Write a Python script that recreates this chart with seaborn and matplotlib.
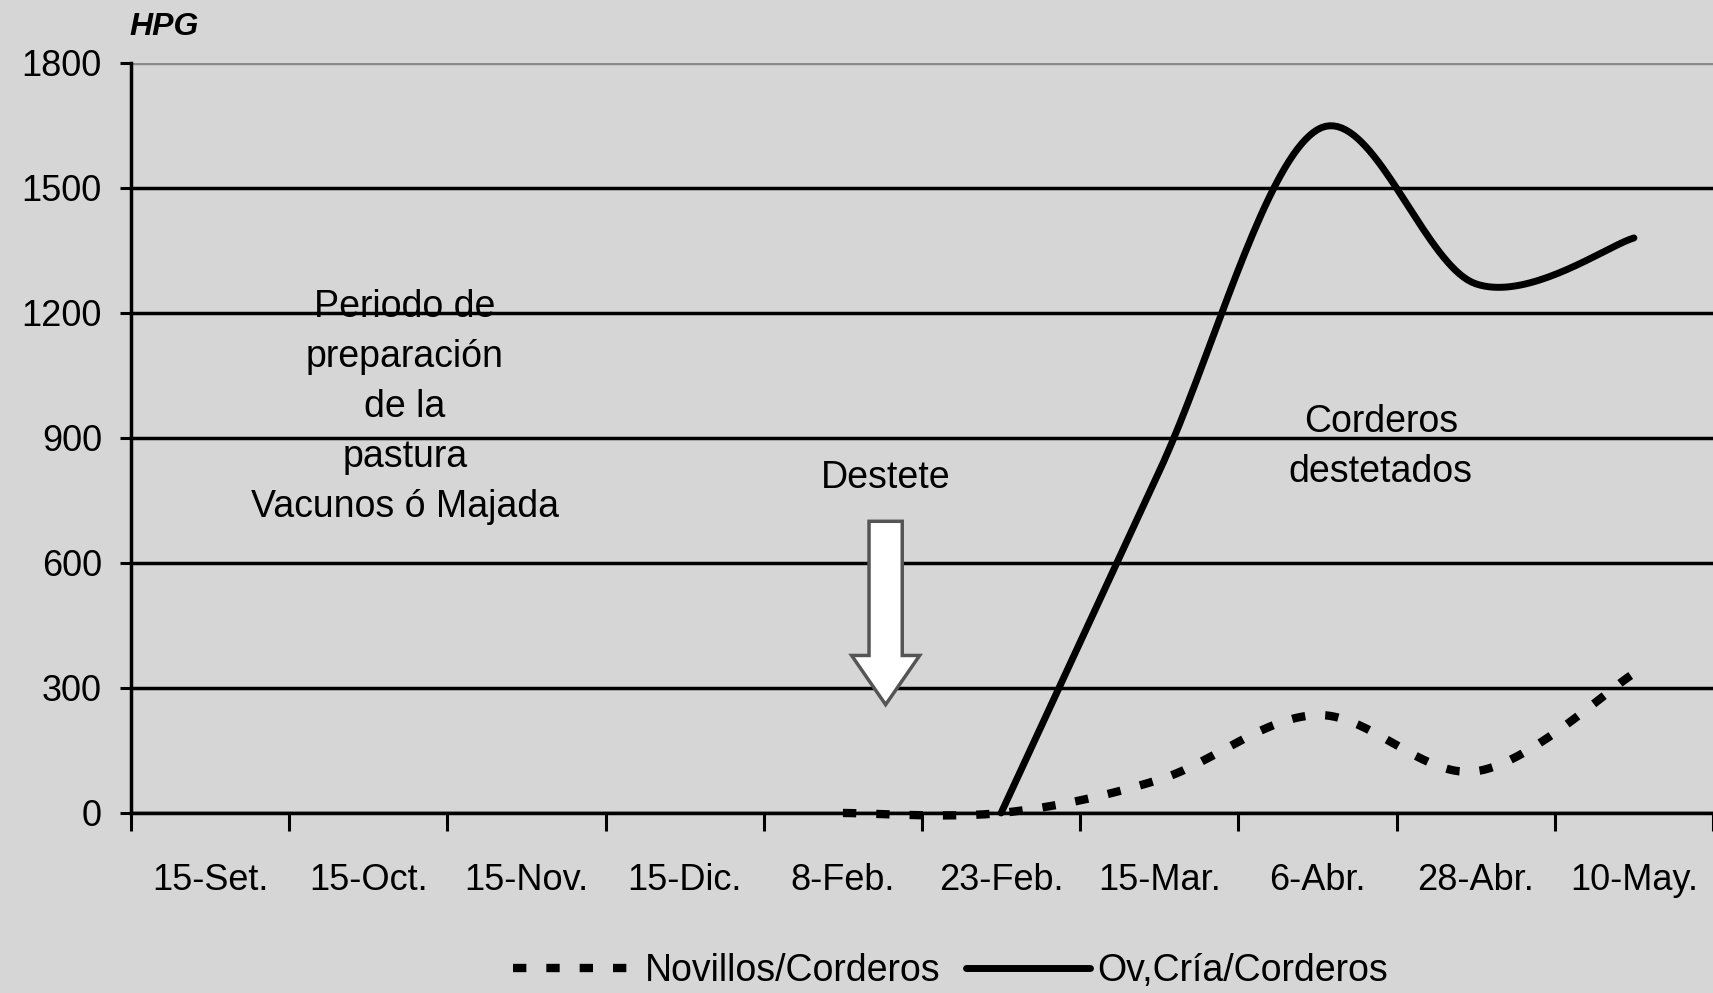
import numpy as np
import pandas as pd
import matplotlib
matplotlib.use("Agg")
import matplotlib.pyplot as plt
from matplotlib.patches import FancyArrow
from matplotlib.ticker import FixedLocator
import seaborn as sns

sns.set_style("ticks")
plt.rcParams['font.family'] = ['Liberation Sans', 'DejaVu Sans']
plt.rcParams['text.color'] = 'black'
plt.rcParams['xtick.color'] = 'black'
plt.rcParams['ytick.color'] = 'black'
plt.rcParams['xtick.labelcolor'] = 'black'
plt.rcParams['ytick.labelcolor'] = 'black'

# data (HPG per sampling date)
fechas = ["15-Set.", "15-Oct.", "15-Nov.", "15-Dic.", "8-Feb.",
          "23-Feb.", "15-Mar.", "6-Abr.", "28-Abr.", "10-May."]
novillos = [np.nan, np.nan, np.nan, np.nan, 0, 0, 80, 235, 100, 335]
ovejas = [np.nan, np.nan, np.nan, np.nan, np.nan, 0, 820, 1640, 1270, 1380]
y_ticks = [0, 300, 600, 900, 1200, 1500, 1800]

bg = '#d6d6d6'


def smooth(values, n=40):
    # Excel-like smoothed line (Bezier through the category points)
    xs = np.arange(len(values), dtype=float)
    ys = np.asarray(values, dtype=float)
    ok = ~np.isnan(ys)
    pts = np.column_stack([xs[ok], ys[ok]])
    ext = np.vstack([pts[0], pts, pts[-1]])
    t = np.linspace(0, 1, n)[:, None]
    segs = []
    for i in range(len(pts) - 1):
        p0, p1, p2, p3 = ext[i], ext[i + 1], ext[i + 2], ext[i + 3]
        c1 = p1 + (p2 - p0) / 6
        c2 = p2 - (p3 - p1) / 6
        seg = (1 - t) ** 3 * p1 + 3 * (1 - t) ** 2 * t * c1 + 3 * (1 - t) * t ** 2 * c2 + t ** 3 * p2
        segs.append(seg if i == 0 else seg[1:])
    s = np.vstack(segs)
    return pd.DataFrame({'x': s[:, 0], 'y': s[:, 1]})


fig = plt.figure(figsize=(17.13, 9.93), dpi=100, facecolor=bg)
ax = fig.add_axes([0.0765, 0.1813, 0.9235, 0.7553])
ax.set_facecolor(bg)

nov = smooth(novillos)
ov = smooth(ovejas)
sns.lineplot(data=nov, x='x', y='y', ax=ax, sort=False, estimator=None,
             color='black', lw=6, linestyle=(0, (1.6, 2.4)),
             label='Novillos/Corderos', zorder=4, clip_on=False)
sns.lineplot(data=ov, x='x', y='y', ax=ax, sort=False, estimator=None,
             color='black', lw=5, label='Ov,Cría/Corderos', zorder=5, clip_on=False)

ax.set_xlim(-0.5, len(fechas) - 0.5)
ax.set_ylim(0, 1800)
ax.set_xticks(range(len(fechas)))
ax.set_xticklabels(fechas, fontsize=26)
ax.xaxis.set_minor_locator(FixedLocator(np.arange(-0.5, len(fechas), 1)))
ax.tick_params(axis='x', which='major', length=0, pad=36)
ax.tick_params(axis='x', which='minor', length=13, width=2.2, color='black', direction='out')
ax.set_yticks(y_ticks)
ax.set_yticklabels([str(v) for v in y_ticks], fontsize=26)
ax.tick_params(axis='y', length=8, width=2.2, color='black', pad=13)
ax.set_xlabel('')
ax.set_ylabel('')

ax.grid(axis='y', color='black', lw=2.5)
ax.get_ygridlines()[-1].set_color('#8a8a8a')
ax.set_axisbelow(True)
for side in ['top', 'right']:
    ax.spines[side].set_visible(False)
for side in ['left', 'bottom']:
    ax.spines[side].set_color('black')
    ax.spines[side].set_linewidth(2.5)
    ax.spines[side].set_zorder(2.6)

ax.legend_.remove()
handles, labels = ax.get_legend_handles_labels()
fig.legend(handles, labels, loc='center', bbox_to_anchor=(0.555, 0.022), ncol=2,
           frameon=False, fontsize=27, handlelength=3.3, handletextpad=0.2,
           columnspacing=0.7)

# annotations
ax.text(1.23, 975, "Periodo de\npreparación\nde la\npastura\nVacunos ó Majada",
        ha='center', va='center', fontsize=27, linespacing=1.5)
ax.text(4.27, 803, "Destete", ha='center', va='center', fontsize=27)
ax.add_patch(FancyArrow(4.27, 700, 0, -440, width=0.21, head_width=0.43,
                        head_length=118, length_includes_head=True,
                        facecolor='white', edgecolor='#555555', lw=2.5, zorder=3))
ax.text(7.4, 878, "Corderos\ndestetados", ha='center', va='center', fontsize=27,
        linespacing=1.5)
fig.text(0.0957, 0.973, "HPG", ha='center', va='center', fontsize=23,
         fontweight='bold', fontstyle='italic')

fig.savefig('out.png', dpi=100, facecolor=bg)
